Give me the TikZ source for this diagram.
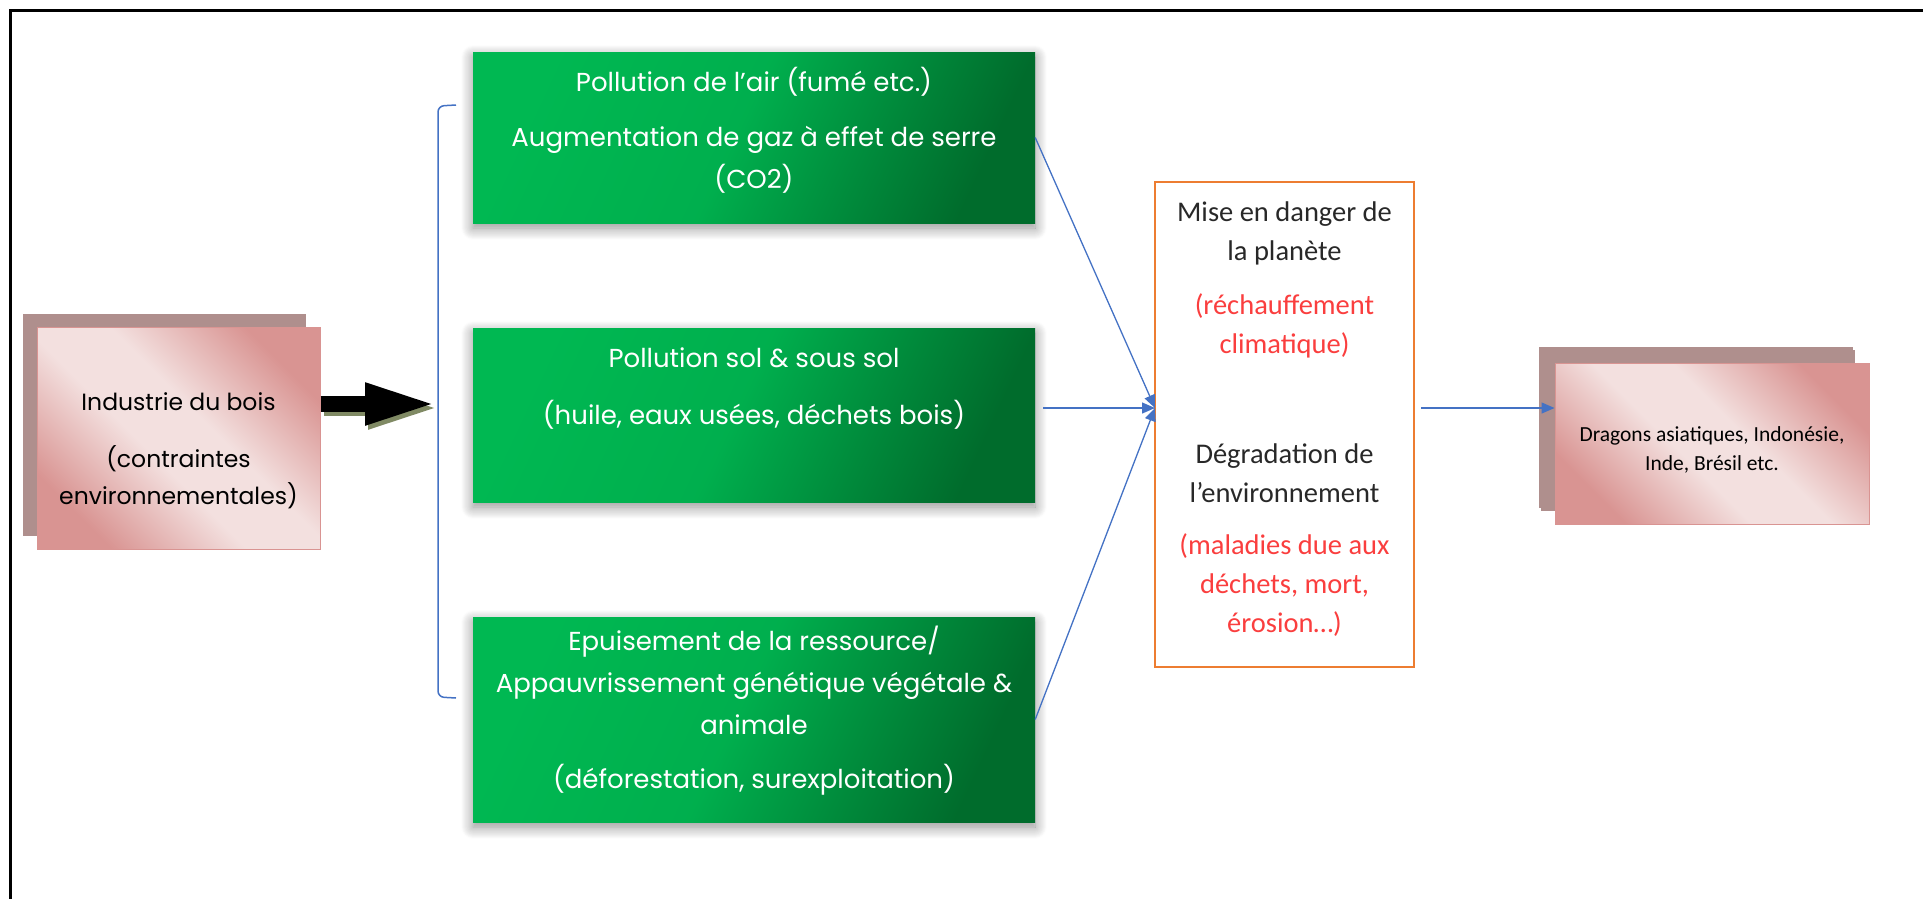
\documentclass[tikz,border=0pt]{standalone}
\usepackage{fontspec}
\setmainfont{Carlito}
\newfontfamily\geofont{Poppins}
\usetikzlibrary{arrows.meta,shadows,fadings,shadows.blur,backgrounds}

\definecolor{pklight}{RGB}{243,224,223}
\definecolor{pkdark}{RGB}{217,148,146}
\definecolor{pkshadow}{RGB}{175,143,141}
\definecolor{grnA}{RGB}{0,184,82}
\definecolor{grnB}{RGB}{0,108,44}
\definecolor{orgline}{RGB}{237,125,49}
\definecolor{blueline}{RGB}{68,114,196}
\definecolor{redtxt}{RGB}{250,62,62}
\definecolor{graytxt}{RGB}{40,40,40}
\definecolor{olivesh}{RGB}{128,138,100}

\pgfdeclarehorizontalshading{pinkband}{100bp}{color(0bp)=(pkdark); color(25bp)=(pkdark); color(44bp)=(pklight); color(56bp)=(pklight); color(75bp)=(pkdark); color(100bp)=(pkdark)}
\pgfdeclarehorizontalshading{grnband}{100bp}{color(0bp)=(grnA); color(25bp)=(grnA); color(48bp)=(grnA!88!grnB); color(75bp)=(grnB); color(100bp)=(grnB)}

\newcommand{\redtx}[1]{\textcolor{redtxt}{#1}}

\tikzset{
  pinkbox/.style={shade, shading=pinkband, shading angle=45, draw=pkdark, line width=1pt,
    general shadow={fill=pkshadow, shadow xshift=-14pt, shadow yshift=13pt}},
  greenbox/.style={shade, shading=grnband, shading angle=-25, minimum width=562pt,
    blur shadow={shadow blur radius=12pt, shadow xshift=0pt, shadow yshift=-5pt, shadow opacity=45, shadow blur steps=12}},
  greentext/.style={text=white, align=center, font=\geofont\fontsize{26}{42}\selectfont},
  conn/.style={draw=blueline, line width=1.3pt, -{Triangle[length=13pt,width=11pt]}}
}

\begin{document}
\begin{tikzpicture}[x=1pt,y=-1pt]
\useasboundingbox (0,0) rectangle (1923,898);
\clip (0,0) rectangle (1923,898);
\draw[line width=3pt] (10,10) rectangle (1960,940);

\begin{scope}
\tikzstyle{every node}=[inner sep=0pt];
% source
\draw (178.5,438) node[pinkbox, minimum width=283pt, minimum height=222pt] (ind) {};
\draw (178.5,451) node[align=center, font=\geofont\fontsize{23.5}{37}\selectfont] (indt)
  {Industrie du bois\\[20pt] (contraintes\\ environnementales)};

% the three kinds of pollution
\draw (754,137.5) node[greenbox, minimum height=171pt] (g1) {};
\draw (754,130) node[greentext] (g1t)
  {Pollution de l’air (fumé etc.)\\[13pt] Augmentation de gaz à effet de serre\\ (CO2)};
\draw (754,415) node[greenbox, minimum height=174pt] (g2) {};
\draw (754,389) node[greentext] (g2t)
  {Pollution sol \& sous sol\\[15pt] (huile, eaux usées, déchets bois)};
\draw (754,719.5) node[greenbox, minimum height=205pt] (g3) {};
\draw (754,711) node[greentext] (g3t)
  {Epuisement de la ressource/\\ Appauvrissement génétique végétale \&\\ animale\\[12pt] (déforestation, surexploitation)};

% consequences
\draw (1284.5,424.5) node[draw=orgline, line width=2pt, minimum width=259pt, minimum height=485pt] (org) {};
\draw (1284.5,419) node[align=center, text=graytxt, font=\fontsize{28.5}{39}\selectfont] (orgt)
  {Mise en danger de\\ la planète\\[15pt] \redtx{(réchauffement}\\ \redtx{climatique)}\\[71pt]
   Dégradation de\\ l’environnement\\[13pt] \redtx{(maladies due aux}\\ \redtx{déchets, mort,}\\ \redtx{érosion…)}};

% countries
\draw (1712,443.5) node[pinkbox, general shadow={fill=pkshadow, shadow xshift=-16pt, shadow yshift=16pt},
  minimum width=314pt, minimum height=161pt] (pays) {};
\draw (1712,449.5) node[align=center, font=\fontsize{21.5}{29}\selectfont] (payst)
  {Dragons asiatiques, Indonésie,\\ Inde, Brésil etc.};
\end{scope}

\coordinate (brk) at (437,404);
\coordinate (hub) at (1155,408);
\coordinate (hubR) at (1421,408);

% big black arrow
\draw[olivesh, line width=16pt, -{Triangle[length=72pt,width=38pt]}] ([xshift=3pt,yshift=-4pt]ind.east |- brk) -- ([xshift=3pt,yshift=-4pt]brk);
\draw[black, line width=16pt, -{Triangle[length=72pt,width=38pt]}] (ind.east |- brk) -- (brk);

% bracket
\draw[blueline, line width=1.5pt, rounded corners=6pt] (456,105) -- (438,106) -- (438,697) -- (456,698);

\draw[conn] (g1.east) -- (hub);
\draw[conn, shorten <=8pt] (g2.east |- hub) -- (hub);
\draw[conn] (g3.east) -- (hub);
\draw[conn] (hubR) -- (pays.west |- hubR);
\end{tikzpicture}
\end{document}
